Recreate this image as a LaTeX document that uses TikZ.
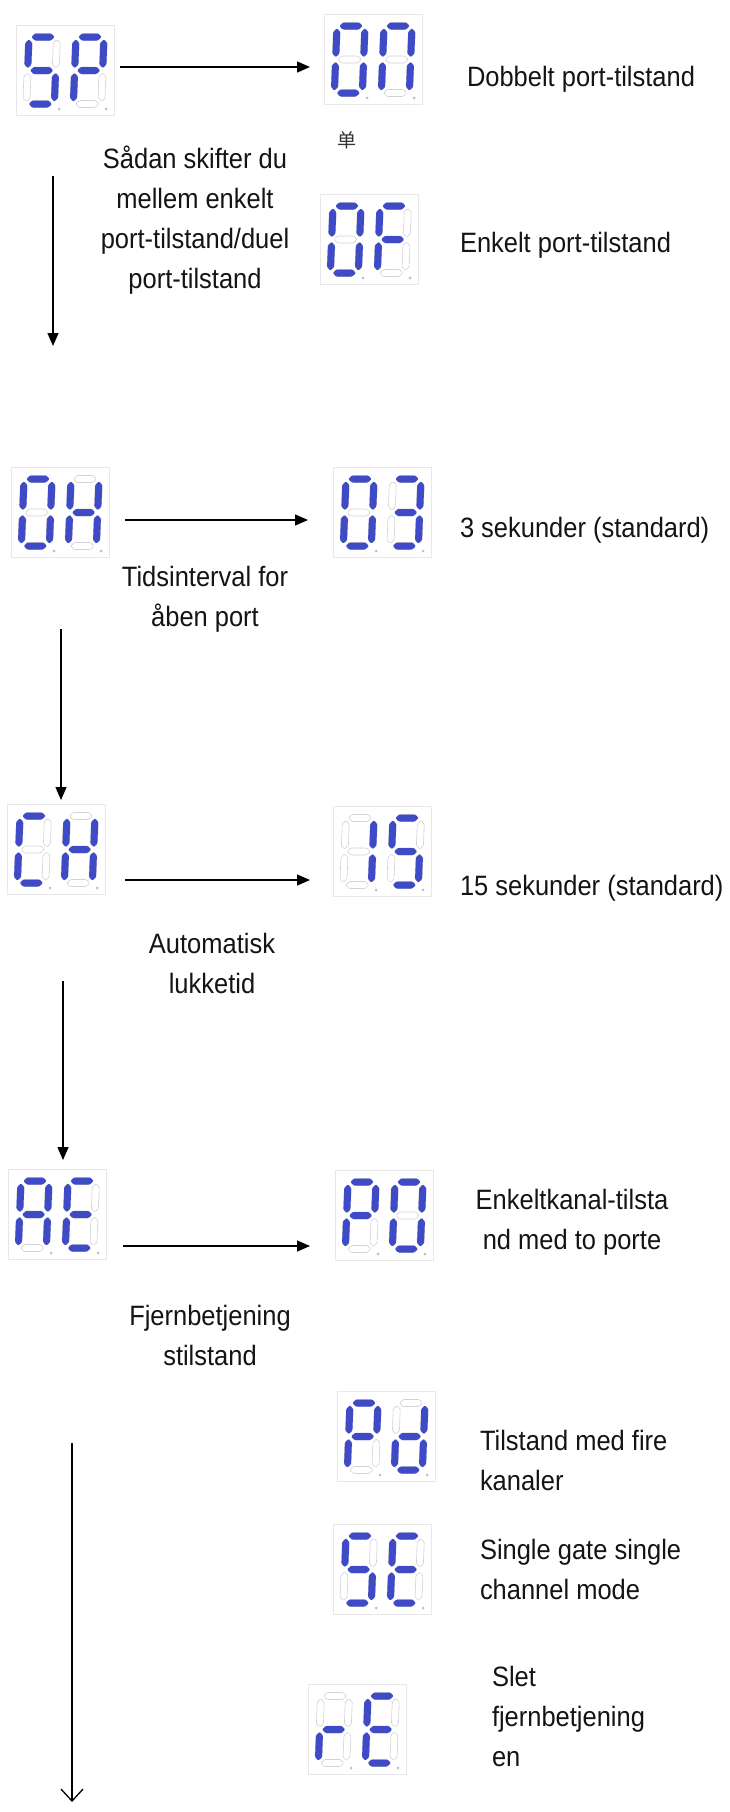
\documentclass[tikz,border=0pt]{standalone}
\usepackage{fontspec}
\setmainfont[FakeStretch=0.91]{Liberation Sans}
\newfontfamily\cjk{Noto Sans CJK SC}
\usetikzlibrary{arrows.meta}
\definecolor{segblue}{RGB}{62,74,198}
\definecolor{segoffc}{RGB}{210,210,214}
\newcommand{\lbfont}{\fontsize{28}{40}\selectfont}
\newcommand{\hseg}[4]{\path[#1] (#2,#4) -- ({#2+3.5},{#4-3.5}) -- ({#3-3.5},{#4-3.5}) -- (#3,#4) -- ({#3-3.5},{#4+3.5}) -- ({#2+3.5},{#4+3.5}) -- cycle;}
\newcommand{\vseg}[4]{\path[#1] (#2,#3) -- ({#2+3.5},{#3+3.5}) -- ({#2+3.5},{#4-3.5}) -- (#2,#4) -- ({#2-3.5},{#4-3.5}) -- ({#2-3.5},{#3+3.5}) -- cycle;}
\newcommand{\SegA}[1]{\hseg{#1}{2.5}{25.5}{0}}
\newcommand{\SegB}[1]{\vseg{#1}{28}{2.5}{31}}
\newcommand{\SegC}[1]{\vseg{#1}{28}{36}{64.5}}
\newcommand{\SegD}[1]{\hseg{#1}{2.5}{25.5}{67}}
\newcommand{\SegE}[1]{\vseg{#1}{0}{36}{64.5}}
\newcommand{\SegF}[1]{\vseg{#1}{0}{2.5}{31}}
\newcommand{\SegG}[1]{\hseg{#1}{2.5}{25.5}{33.5}}
\newcommand{\sdigit}[3]{%
  \begin{scope}[shift={(#1)}, shift={(#2)}, xslant=0.04]
    \SegA{segoff}\SegB{segoff}\SegC{segoff}\SegD{segoff}\SegE{segoff}\SegF{segoff}\SegG{segoff}
    \foreach \s in {#3} {\csname Seg\s\endcsname{segon}}
    \fill[dotc] (33,72) circle (1.5);
  \end{scope}}
\newcommand{\sdisp}[5]{%
  \node[dispbox, anchor=north west] (#1) at (#2,#3) {};
  \sdigit{#1.north west}{13,12}{#4}
  \sdigit{#1.north west}{60,12}{#5}}
\tikzset{
  dispbox/.style={draw=black!9, line width=0.6pt, fill=white, minimum width=98pt, minimum height=90pt, inner sep=0pt, outer sep=0pt},
  segoff/.style={draw=segoffc, line width=0.6pt, rounded corners=1pt},
  segon/.style={fill=segblue, rounded corners=1pt},
  dotc/.style={fill=black!25},
  lbl/.style={font=\lbfont, inner sep=0pt, outer sep=0pt, text=black!92},
  harr/.style={line width=1.3pt, -{Triangle[length=13pt,width=11pt]}},
  varr/.style={line width=1.3pt, -{Triangle[length=13pt,width=11pt]}},
  oarr/.style={line width=1.3pt, -{Straight Barb[length=12pt,width=22pt,line width=1.3pt]}}
}
\begin{document}
\begin{tikzpicture}[x=1pt,y=-1pt]
\useasboundingbox (0,0) rectangle (729,1812);
\fill[white] (0,0) rectangle (729,1812);
% displays
\sdisp{SP}{16}{25}{A,F,G,C,D}{A,B,F,G,E}
\sdisp{ON}{324}{14}{A,B,C,D,E,F}{A,B,C,E,F}
\sdisp{OF}{320}{194}{A,B,C,D,E,F}{A,E,F,G}
\sdisp{OH}{11}{467}{A,B,C,D,E,F}{B,C,E,F,G}
\sdisp{OT}{333}{467}{A,B,C,D,E,F}{A,B,C,D,G}
\sdisp{CH}{7}{804}{A,D,E,F}{B,C,E,F,G}
\sdisp{FT}{333}{806}{B,C}{A,F,G,C,D}
\sdisp{AE}{8}{1169}{A,B,C,E,F,G}{A,D,E,F,G}
\sdisp{PO}{335}{1170}{A,B,F,G,E}{A,B,C,D,E,F}
\sdisp{PD}{337}{1391}{A,B,F,G,E}{B,C,D,E,G}
\sdisp{SE}{333}{1524}{A,F,G,C,D}{A,D,E,F,G}
\sdisp{RE}{308}{1684}{E,G}{A,D,E,F,G}
% labels
\node[lbl, anchor=base west] (tON) at (467,86) {Dobbelt port-tilstand};
\node[inner sep=0pt, font=\fontsize{19}{22}\selectfont\cjk, text=black!80] (tdan) at (347,140) {单};
\node[lbl, anchor=base west] (tOF) at (460,252) {Enkelt port-tilstand};
\node[lbl, anchor=north, align=center] (tSP) at (195,140) {\strut Sådan skifter du\\mellem enkelt\\port-tilstand/duel\\port-tilstand};
\node[lbl, anchor=base west] (tOT) at (460,537) {3 sekunder (standard)};
\node[lbl, anchor=north, align=center] (tOH) at (205,558) {\strut Tidsinterval for\\åben port};
\node[lbl, anchor=base west] (tFT) at (460,895) {15 sekunder (standard)};
\node[lbl, anchor=north, align=center] (tCH) at (212,925) {\strut Automatisk\\lukketid};
\node[lbl, anchor=north, align=center] (tPO) at (572,1181) {\strut Enkeltkanal-tilsta\\nd med to porte};
\node[lbl, anchor=north, align=center] (tAE) at (210,1297) {\strut Fjernbetjening\\stilstand};
\node[lbl, anchor=north west, align=left] (tPD) at (480,1422) {\strut Tilstand med fire\\kanaler};
\node[lbl, anchor=north west, align=left] (tSE) at (480,1531) {\strut Single gate single\\channel mode};
\node[lbl, anchor=north west, align=left] (tRE) at (492,1658) {\strut Slet\\fjernbetjening\\en};
% arrow end points
\coordinate (h1s) at (120,67);   \coordinate (h1e) at (310,67);
\coordinate (h2s) at (125,520);  \coordinate (h2e) at (308,520);
\coordinate (h3s) at (125,880);  \coordinate (h3e) at (310,880);
\coordinate (h4s) at (123,1246); \coordinate (h4e) at (310,1246);
\coordinate (v1s) at (53,176);   \coordinate (v1e) at (53,346);
\coordinate (v2s) at (61,629);   \coordinate (v2e) at (61,800);
\coordinate (v3s) at (63,981);   \coordinate (v3e) at (63,1160);
\coordinate (v4s) at (72,1443);  \coordinate (v4e) at (72,1802);
\draw[harr] (h1s) -- (h1e);
\draw[harr] (h2s) -- (h2e);
\draw[harr] (h3s) -- (h3e);
\draw[harr] (h4s) -- (h4e);
\draw[varr] (v1s) -- (v1e);
\draw[varr] (v2s) -- (v2e);
\draw[varr] (v3s) -- (v3e);
\draw[oarr] (v4s) -- (v4e);
\end{tikzpicture}
\end{document}
